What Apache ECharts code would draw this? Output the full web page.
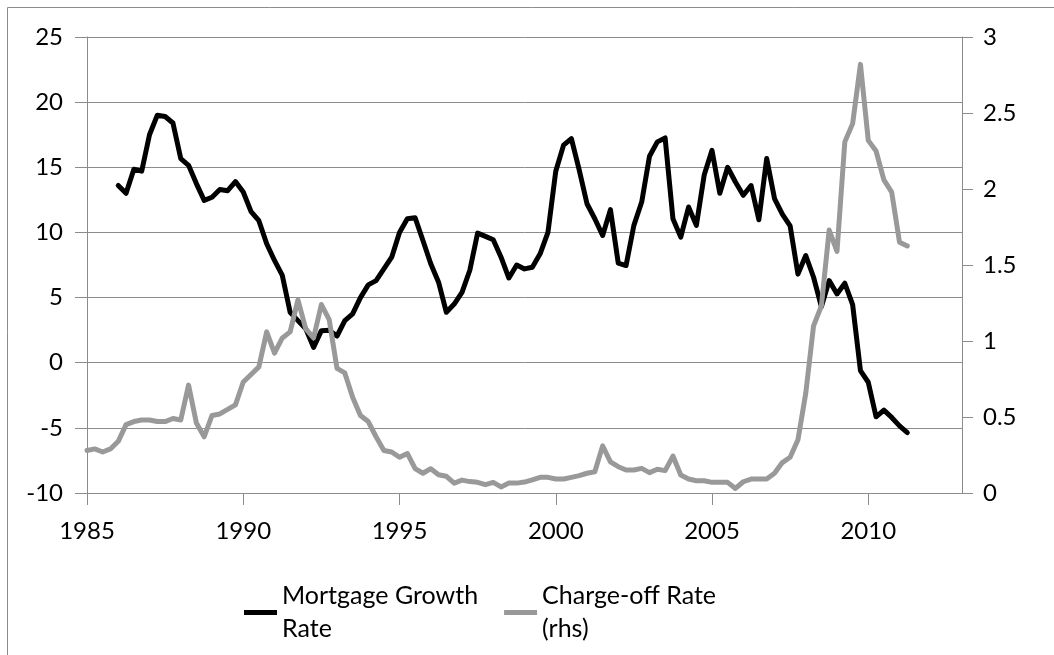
<!DOCTYPE html>
<html>
<head>
<meta charset="utf-8">
<script src="https://cdn.jsdelivr.net/npm/echarts@6/dist/echarts.min.js"></script>
<style>
  html, body { margin: 0; padding: 0; background: #fff; }
  #chart { width: 1054px; height: 655px; }
</style>
</head>
<body>
<div id="chart"></div>
<script>
// quarterly series, first value of each at startYear (Q1)
const mortgageStart = 1986;
const mortgageGrowth = [
  13.6, 13.0, 14.85, 14.7,
  17.5, 19.0, 18.9, 18.4,
  15.67, 15.15, 13.75, 12.46,
  12.7, 13.3, 13.2, 13.9,
  13.1, 11.6, 10.9, 9.13,
  7.85, 6.7, 3.87, 3.23,
  2.6, 1.18, 2.46, 2.5,
  2.05, 3.23, 3.75, 5.0,
  5.97, 6.3, 7.2, 8.1,
  10.0, 11.05, 11.13, 9.38,
  7.6, 6.18, 3.87, 4.5,
  5.4, 7.1, 9.95, 9.7,
  9.44, 8.1, 6.5, 7.5,
  7.2, 7.33, 8.36, 10.0,
  14.7, 16.7, 17.2, 14.8,
  12.2, 11.05, 9.77, 11.75,
  7.64, 7.46, 10.54, 12.33,
  15.85, 16.95, 17.25, 11.05,
  9.64, 11.95, 10.54, 14.4,
  16.3, 13.0, 15.0, 13.87,
  12.85, 13.6, 10.97, 15.67,
  12.6, 11.4, 10.5, 6.8,
  8.23, 6.56, 4.3, 6.3,
  5.28, 6.1, 4.46, -0.6,
  -1.5, -4.15, -3.64, -4.2,
  -4.85, -5.36
];

const chargeOffStart = 1985;
const chargeOffRate = [
  0.28, 0.29, 0.27, 0.29,
  0.34, 0.45, 0.47, 0.48,
  0.48, 0.47, 0.47, 0.49,
  0.48, 0.71, 0.46, 0.37,
  0.51, 0.52, 0.55, 0.58,
  0.73, 0.78, 0.83, 1.06,
  0.92, 1.02, 1.06, 1.27,
  1.08, 1.02, 1.24, 1.14,
  0.82, 0.79, 0.63, 0.51,
  0.47, 0.37, 0.28, 0.27,
  0.235, 0.26, 0.16, 0.13,
  0.16, 0.12, 0.11, 0.065,
  0.085, 0.075, 0.07, 0.055,
  0.07, 0.04, 0.065, 0.065,
  0.072, 0.086, 0.103, 0.103,
  0.092, 0.092, 0.103, 0.114,
  0.13, 0.14, 0.31, 0.205,
  0.173, 0.151, 0.151, 0.162,
  0.134, 0.156, 0.147, 0.243,
  0.118, 0.092, 0.081, 0.081,
  0.07, 0.07, 0.07, 0.03,
  0.074, 0.092, 0.092, 0.092,
  0.13, 0.2, 0.235, 0.35,
  0.656, 1.1, 1.23, 1.73,
  1.59, 2.31, 2.43, 2.82,
  2.32, 2.25, 2.06, 1.98,
  1.65, 1.625
];

const yearTicks = [1985, 1990, 1995, 2000, 2005, 2010];
const seriesNames = ['Mortgage Growth\nRate', 'Charge-off Rate\n(rhs)'];

// pair each value with its quarter (year + 0.25 per quarter)
const toPoints = (start, values) => values.map((v, i) => [start + i * 0.25, v]);

const FONT = 'Lato';
const AXIS_GRAY = '#8c8c8c';

const chart = echarts.init(document.getElementById('chart'));

chart.setOption({
  animation: false,
  textStyle: { fontFamily: FONT, color: '#000' },
  graphic: [
    {
      // chart frame (only top and left edges fall inside the picture)
      type: 'rect',
      shape: { x: 7.5, y: 7.5, width: 1200, height: 800 },
      style: { fill: 'none', stroke: '#8c8c8c', lineWidth: 1 },
      silent: true
    }
  ],
  grid: { left: 87, right: 92, top: 37, bottom: 162 },
  legend: {
    left: 244,
    top: 563,
    padding: 0,
    itemWidth: 33,
    itemHeight: 5,
    itemGap: 26,
    icon: 'rect',
    selectedMode: false,
    textStyle: {
      fontFamily: FONT,
      fontSize: 25,
      color: '#000',
      lineHeight: 33,
      padding: [33, 0, 0, 0]
    },
    data: seriesNames
  },
  xAxis: {
    type: 'value',
    min: 1985,
    max: 2013,
    interval: 5,
    axisLine: { show: true, onZero: false, lineStyle: { color: AXIS_GRAY, width: 1 } },
    axisTick: { show: true, inside: false, length: 12, customValues: yearTicks, lineStyle: { color: AXIS_GRAY } },
    axisLabel: {
      customValues: yearTicks,
      margin: 26,
      fontSize: 24,
      fontFamily: FONT,
      color: '#000',
      formatter: (v) => String(v)
    },
    splitLine: { show: false }
  },
  yAxis: [
    {
      type: 'value',
      min: -10,
      max: 25,
      interval: 5,
      axisLine: { show: true, onZero: false, lineStyle: { color: AXIS_GRAY, width: 1 } },
      axisTick: { show: true, length: 12, lineStyle: { color: AXIS_GRAY } },
      axisLabel: { margin: 24, fontSize: 24, fontFamily: FONT, color: '#000' },
      splitLine: { show: true, lineStyle: { color: AXIS_GRAY, width: 1 } }
    },
    {
      type: 'value',
      min: 0,
      max: 3,
      interval: 0.5,
      position: 'right',
      axisLine: { show: true, lineStyle: { color: AXIS_GRAY, width: 1 } },
      axisTick: { show: true, length: 11, lineStyle: { color: AXIS_GRAY } },
      axisLabel: { margin: 21, fontSize: 24, fontFamily: FONT, color: '#000' },
      splitLine: { show: false }
    }
  ],
  series: [
    {
      name: seriesNames[0],
      type: 'line',
      yAxisIndex: 0,
      showSymbol: false,
      data: toPoints(mortgageStart, mortgageGrowth),
      itemStyle: { color: '#000' },
      lineStyle: { color: '#000', width: 5, join: 'round', cap: 'round' }
    },
    {
      name: seriesNames[1],
      type: 'line',
      yAxisIndex: 1,
      showSymbol: false,
      data: toPoints(chargeOffStart, chargeOffRate),
      itemStyle: { color: '#999' },
      lineStyle: { color: '#999', width: 5, join: 'round', cap: 'round' }
    }
  ]
});
</script>
</body>
</html>
